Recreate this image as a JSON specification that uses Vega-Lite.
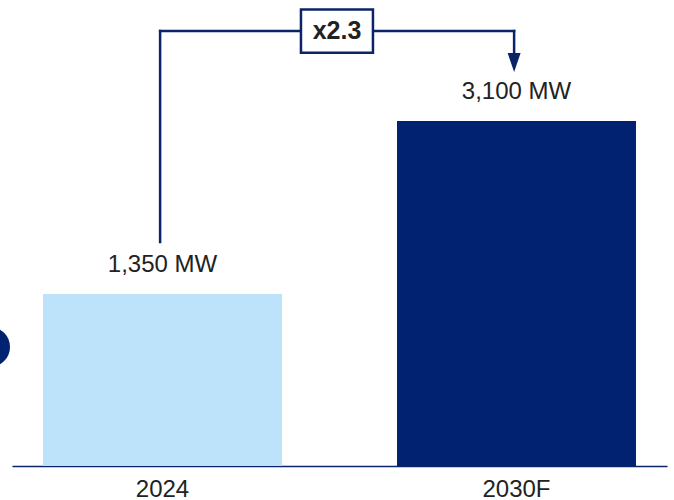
{
  "$schema": "https://vega.github.io/schema/vega-lite/v6.json",
  "width": 655,
  "height": 466,
  "autosize": "none",
  "padding": {"left": 12, "right": 7, "top": 0, "bottom": 34},
  "background": "white",
  "config": {"view": {"stroke": null}, "font": "Liberation Sans"},
  "data": {"values": [
    {"year": "2024", "mw": 1350, "label": "1,350 MW"},
    {"year": "2030F", "mw": 3100, "label": "3,100 MW"}
  ]},
  "encoding": {
    "x": {"field": "year", "type": "nominal", "sort": null,
      "scale": {"domain": ["2024", "2030F"], "paddingInner": 0.3249, "paddingOuter": 0.0876},
      "axis": {"title": null, "labelAngle": 0, "ticks": false, "domainColor": "#0a2468", "domainWidth": 1.5,
        "labelFontSize": 24, "labelColor": "#222222", "labelPadding": 11, "labelFont": "Liberation Sans", "grid": false}}
  },
  "layer": [
    {
      "mark": {"type": "bar"},
      "encoding": {
        "y": {"field": "mw", "type": "quantitative", "scale": {"domain": [-390, 4324], "zero": false, "nice": false}, "axis": null},
        "y2": {"datum": -390},
        "color": {"field": "year", "type": "nominal", "scale": {"domain": ["2024", "2030F"], "range": ["#bde3fa", "#002270"]}, "legend": null}
      }
    },
    {
      "mark": {"type": "text", "dy": -22, "baseline": "alphabetic", "fontSize": 24, "color": "#222222", "font": "Liberation Sans"},
      "encoding": {
        "y": {"field": "mw", "type": "quantitative"},
        "text": {"field": "label"}
      }
    },
    {
      "data": {"values": [{"note": "x2.3"}]},
      "mark": {"type": "rule", "color": "#0a2468", "strokeWidth": 2.5, "strokeCap": "square"},
      "encoding": {
        "x": {"datum": "2024", "type": "nominal", "bandPosition": 0.49},
        "y": {"datum": 1876, "type": "quantitative"},
        "y2": {"datum": 4010}
      }
    },
    {
      "data": {"values": [{"note": "x2.3"}]},
      "mark": {"type": "rule", "color": "#0a2468", "strokeWidth": 2.5, "strokeCap": "square"},
      "encoding": {
        "x": {"datum": "2024", "type": "nominal", "bandPosition": 0.49},
        "x2": {"datum": "2030F", "bandPosition": 0.49},
        "y": {"datum": 4010, "type": "quantitative"}
      }
    },
    {
      "data": {"values": [{"note": "x2.3"}]},
      "mark": {"type": "rule", "color": "#0a2468", "strokeWidth": 2.5, "strokeCap": "square"},
      "encoding": {
        "x": {"datum": "2030F", "type": "nominal", "bandPosition": 0.49},
        "y": {"datum": 4010, "type": "quantitative"},
        "y2": {"datum": 3768}
      }
    },
    {
      "data": {"values": [{"note": "x2.3"}]},
      "mark": {"type": "point", "shape": "M-1,-1.46L1,-1.46L0,1.46Z", "size": 169, "filled": true, "color": "#0a2468", "opacity": 1},
      "encoding": {
        "x": {"datum": "2030F", "type": "nominal", "bandPosition": 0.49},
        "y": {"datum": 3692, "type": "quantitative"}
      }
    },
    {
      "data": {"values": [{"note": "x2.3"}]},
      "mark": {"type": "point", "shape": "M-1,-0.6H1V0.6H-1Z", "size": 5184, "filled": true, "fill": "white", "stroke": "#0a2468", "strokeWidth": 2.5, "opacity": 1},
      "encoding": {
        "x": {"datum": "2024", "type": "nominal", "bandPosition": 1.23},
        "y": {"datum": 4010, "type": "quantitative"}
      }
    },
    {
      "data": {"values": [{"note": "x2.3"}]},
      "mark": {"type": "text", "fontSize": 25, "fontWeight": "bold", "color": "#222222", "baseline": "middle", "font": "Liberation Sans"},
      "encoding": {
        "x": {"datum": "2024", "type": "nominal", "bandPosition": 1.23},
        "y": {"datum": 4010, "type": "quantitative"},
        "text": {"field": "note"}
      }
    },
    {
      "data": {"values": [{"note": "x2.3"}]},
      "mark": {"type": "point", "shape": "circle", "size": 1600, "filled": true, "color": "#002270", "opacity": 1},
      "encoding": {
        "x": {"datum": "2024", "type": "nominal", "bandPosition": -0.2218},
        "y": {"datum": 814, "type": "quantitative"}
      }
    }
  ]
}
